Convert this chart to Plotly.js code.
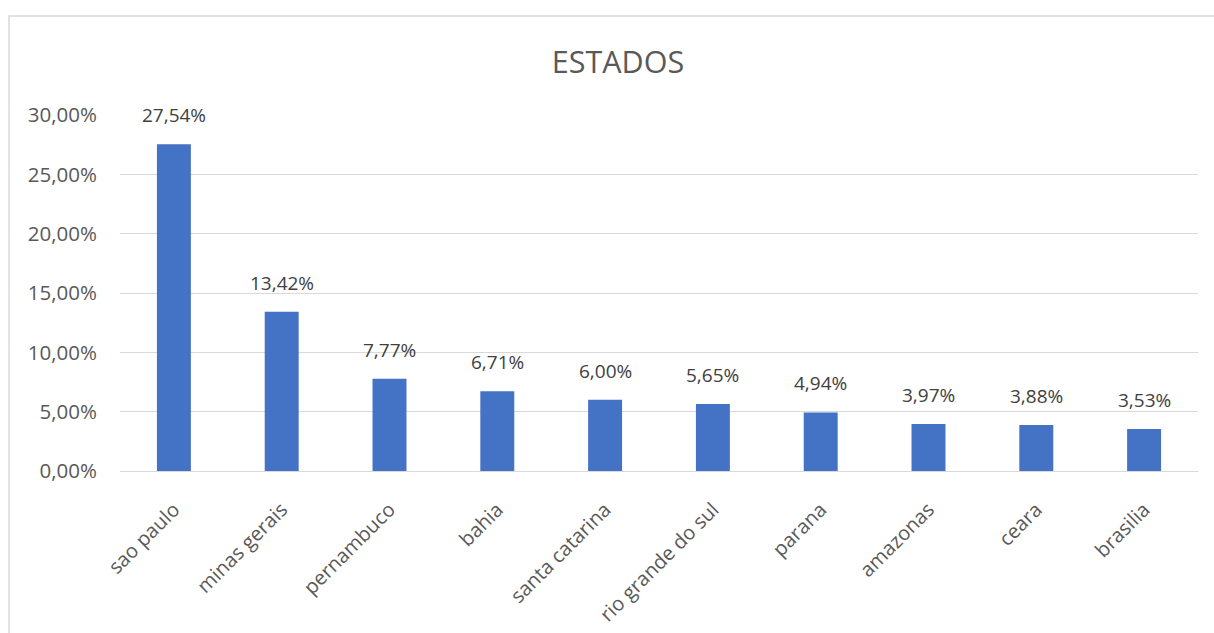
<!DOCTYPE html>
<html>
<head>
<meta charset="utf-8">
<script src="https://cdn.plot.ly/plotly-3.0.1.min.js"></script>
<style>html,body{margin:0;padding:0;background:#fff;}#chart{width:1214px;height:633px;}</style>
</head>
<body>
<div id="chart"></div>
<script>
const estados = ["sao paulo", "minas gerais", "pernambuco", "bahia", "santa catarina", "rio grande do sul", "parana", "amazonas", "ceara", "brasilia"];
const percentuais = [0.2754, 0.1342, 0.0777, 0.0671, 0.0600, 0.0565, 0.0494, 0.0397, 0.0388, 0.0353];
const yTicks = [0, 0.05, 0.10, 0.15, 0.20, 0.25, 0.30];

const FONT = "'Open Sans', 'Noto Sans', sans-serif";

const trace = {
  type: 'bar',
  x: estados,
  y: percentuais,
  marker: {color: '#4472C4', line: {width: 0}},
  hoverinfo: 'skip'
};

const fmt = v => (v * 100).toFixed(2).replace('.', ',') + '%';

const labels = estados.map((e, i) => ({
  x: e, y: percentuais[i], xref: 'x', yref: 'y',
  text: fmt(percentuais[i]),
  showarrow: false,
  yanchor: 'bottom',
  yshift: 14,
  font: {family: FONT, size: 19, color: '#404040'}
}));

const layout = {
  width: 1214,
  height: 633,
  paper_bgcolor: '#ffffff',
  plot_bgcolor: '#ffffff',
  separators: ',.',
  margin: {l: 120, r: 16, t: 115, b: 162},
  bargap: 0.685,
  showlegend: false,
  title: {
    text: 'ESTADOS',
    font: {family: FONT, size: 30.5, color: '#595959'},
    x: 618/1214, xanchor: 'center',
    y: 0.902, yanchor: 'middle', yref: 'container'
  },
  xaxis: {
    type: 'category',
    tickangle: -45,
    tickfont: {family: FONT, size: 20, color: '#595959'},
    showgrid: false,
    showline: false,
    zeroline: false,
    ticks: '',
    ticklabelstandoff: 22,
    automargin: false
  },
  yaxis: {
    range: [0, 0.30],
    tickvals: yTicks,
    tickformat: '.2%',
    tickfont: {family: FONT, size: 20.5, color: '#595959'},
    showgrid: true,
    gridcolor: '#d9d9d9',
    gridwidth: 1,
    zeroline: true,
    zerolinecolor: '#d9d9d9',
    zerolinewidth: 1,
    showline: false,
    ticks: '',
    ticklabelstandoff: 22,
    automargin: false
  },
  annotations: labels,
  shapes: [{
    type: 'rect', xref: 'paper', yref: 'paper',
    x0: -111/1078, x1: 1.3, y0: -0.6, y1: 1 + 99/356,
    line: {color: '#d9d9d9', width: 1.5},
    fillcolor: 'rgba(0,0,0,0)',
    layer: 'below'
  }]
};

Plotly.newPlot('chart', [trace], layout, {staticPlot: true, displayModeBar: false});
</script>
</body>
</html>
